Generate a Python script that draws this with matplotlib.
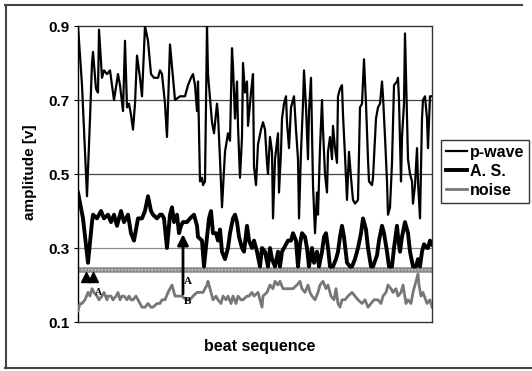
import matplotlib
matplotlib.use('Agg')
import matplotlib.pyplot as plt
from matplotlib.lines import Line2D

plt.rcParams['font.family'] = ['Liberation Sans', 'DejaVu Sans']
plt.rcParams['font.weight'] = 'bold'

# --- data (beat position, amplitude) ---
pwave_beat = [0, 4, 9, 12, 14, 15, 18, 20, 21, 24,
              26, 29, 32, 36, 40, 42, 45, 47, 49, 51,
              53, 55, 57, 59, 62, 64, 67, 70, 73, 76,
              80, 82, 84, 87, 89, 92, 97, 102, 107, 110,
              113, 115, 117, 119, 120, 122, 124, 125, 127, 129,
              130, 134, 136, 139, 140, 142, 144, 147, 150, 152,
              154, 155, 157, 159, 160, 162, 164, 165, 167, 169,
              170, 173, 175, 176, 178, 180, 183, 185, 187, 189,
              190, 192, 194, 195, 197, 200, 201, 203, 204, 206,
              208, 209, 211, 213, 215, 216, 218, 220, 221, 223,
              225, 226, 228, 230, 231, 233, 235, 237, 239, 240,
              242, 244, 245, 247, 249, 250, 252, 254, 255, 257,
              259, 260, 262, 264, 265, 267, 269, 271, 273, 275,
              277, 280, 282, 284, 286, 288, 290, 291, 294, 295,
              298, 300, 302, 304, 305, 307, 309, 310, 312, 314,
              316, 319, 320, 321, 323, 324, 326, 327, 329, 330,
              332, 334, 335, 337, 339, 340, 342, 344, 345, 347,
              349, 350, 352, 354]
pwave_amp = [0.90, 0.74, 0.44, 0.65, 0.80, 0.83, 0.73, 0.72, 0.89, 0.76,
             0.78, 0.77, 0.78, 0.70, 0.77, 0.74, 0.67, 0.86, 0.68, 0.69,
             0.66, 0.62, 0.69, 0.82, 0.76, 0.71, 0.90, 0.86, 0.77, 0.76,
             0.76, 0.78, 0.77, 0.69, 0.60, 0.85, 0.70, 0.71, 0.71, 0.74,
             0.76, 0.77, 0.74, 0.67, 0.75, 0.48, 0.49, 0.47, 0.48, 0.90,
             0.77, 0.64, 0.61, 0.69, 0.66, 0.54, 0.41, 0.56, 0.61, 0.59,
             0.84, 0.79, 0.65, 0.75, 0.63, 0.49, 0.60, 0.80, 0.72, 0.75,
             0.63, 0.72, 0.77, 0.52, 0.47, 0.58, 0.62, 0.64, 0.62, 0.53,
             0.50, 0.60, 0.56, 0.38, 0.54, 0.61, 0.45, 0.56, 0.65, 0.69,
             0.71, 0.64, 0.57, 0.68, 0.70, 0.71, 0.62, 0.54, 0.38, 0.56,
             0.69, 0.78, 0.68, 0.54, 0.67, 0.76, 0.47, 0.34, 0.45, 0.39,
             0.57, 0.70, 0.62, 0.50, 0.45, 0.56, 0.60, 0.54, 0.63, 0.57,
             0.53, 0.71, 0.73, 0.74, 0.66, 0.55, 0.43, 0.56, 0.49, 0.43,
             0.42, 0.43, 0.68, 0.69, 0.81, 0.69, 0.54, 0.48, 0.47, 0.49,
             0.65, 0.68, 0.69, 0.75, 0.71, 0.60, 0.48, 0.39, 0.41, 0.53,
             0.74, 0.75, 0.76, 0.70, 0.48, 0.60, 0.69, 0.88, 0.66, 0.54,
             0.50, 0.48, 0.42, 0.47, 0.57, 0.48, 0.38, 0.65, 0.70, 0.71,
             0.65, 0.57, 0.71, 0.71]

as_beat = [0, 5, 10, 14, 15, 19, 23, 26, 30, 33,
           36, 39, 43, 46, 50, 53, 56, 60, 64, 67,
           70, 73, 75, 79, 82, 84, 86, 89, 92, 94,
           96, 99, 101, 103, 105, 109, 112, 116, 119, 120,
           124, 126, 129, 131, 133, 135, 138, 140, 142, 144,
           147, 150, 152, 155, 157, 159, 161, 164, 166, 169,
           171, 174, 176, 179, 182, 184, 187, 190, 192, 194,
           197, 200, 202, 204, 208, 210, 213, 215, 218, 220,
           222, 224, 227, 229, 231, 234, 236, 239, 241, 244,
           246, 248, 250, 252, 255, 258, 260, 262, 264, 266,
           269, 272, 274, 277, 280, 283, 285, 288, 290, 293,
           295, 299, 301, 304, 306, 309, 311, 314, 316, 319,
           320, 322, 324, 327, 330, 332, 335, 338, 340, 342,
           344, 346, 349, 350, 352, 354]
as_amp = [0.45, 0.38, 0.26, 0.37, 0.39, 0.38, 0.40, 0.38, 0.39, 0.37,
          0.39, 0.36, 0.40, 0.37, 0.39, 0.34, 0.32, 0.38, 0.38, 0.40,
          0.44, 0.40, 0.39, 0.38, 0.39, 0.39, 0.38, 0.30, 0.39, 0.41,
          0.37, 0.39, 0.34, 0.36, 0.37, 0.37, 0.38, 0.39, 0.36, 0.33,
          0.32, 0.25, 0.33, 0.38, 0.40, 0.34, 0.34, 0.32, 0.35, 0.29,
          0.27, 0.30, 0.34, 0.38, 0.39, 0.37, 0.33, 0.30, 0.29, 0.36,
          0.32, 0.30, 0.32, 0.29, 0.25, 0.30, 0.29, 0.25, 0.30, 0.27,
          0.25, 0.29, 0.25, 0.29, 0.31, 0.32, 0.32, 0.34, 0.32, 0.25,
          0.31, 0.34, 0.33, 0.30, 0.25, 0.30, 0.26, 0.29, 0.25, 0.29,
          0.33, 0.34, 0.30, 0.25, 0.25, 0.27, 0.29, 0.33, 0.36, 0.33,
          0.26, 0.25, 0.25, 0.27, 0.30, 0.34, 0.38, 0.35, 0.30, 0.25,
          0.25, 0.28, 0.32, 0.36, 0.34, 0.29, 0.25, 0.25, 0.30, 0.36,
          0.33, 0.29, 0.33, 0.37, 0.34, 0.29, 0.25, 0.25, 0.27, 0.25,
          0.29, 0.31, 0.30, 0.30, 0.32, 0.31]

noise_beat = [0, 2, 4, 7, 10, 12, 14, 16, 19, 21,
              24, 26, 29, 30, 33, 35, 38, 40, 42, 44,
              46, 49, 51, 53, 55, 58, 60, 64, 67, 70,
              73, 75, 79, 82, 84, 87, 90, 94, 97, 100,
              104, 108, 112, 115, 119, 122, 125, 129, 130, 133,
              135, 138, 140, 143, 145, 148, 150, 153, 155, 158,
              160, 163, 165, 169, 171, 174, 176, 180, 184, 185,
              189, 192, 195, 197, 200, 202, 205, 209, 212, 215,
              219, 222, 224, 227, 230, 232, 234, 237, 240, 242,
              245, 248, 250, 253, 256, 258, 260, 262, 264, 267,
              270, 274, 277, 280, 284, 287, 290, 293, 296, 300,
              303, 305, 308, 310, 313, 315, 318, 320, 323, 325,
              328, 330, 333, 335, 338, 340, 341, 343, 345, 349,
              352, 354]
noise_amp = [0.13, 0.15, 0.15, 0.16, 0.18, 0.17, 0.19, 0.18, 0.17, 0.16,
             0.17, 0.18, 0.16, 0.17, 0.17, 0.16, 0.17, 0.18, 0.16, 0.17,
             0.17, 0.16, 0.17, 0.16, 0.16, 0.17, 0.16, 0.14, 0.14, 0.15,
             0.14, 0.14, 0.15, 0.15, 0.16, 0.16, 0.18, 0.20, 0.17, 0.17,
             0.17, 0.16, 0.16, 0.17, 0.18, 0.18, 0.18, 0.20, 0.21, 0.18,
             0.16, 0.17, 0.16, 0.15, 0.17, 0.16, 0.17, 0.15, 0.17, 0.15,
             0.17, 0.16, 0.16, 0.17, 0.17, 0.18, 0.17, 0.18, 0.14, 0.17,
             0.18, 0.20, 0.19, 0.21, 0.20, 0.21, 0.19, 0.19, 0.19, 0.19,
             0.20, 0.21, 0.19, 0.18, 0.20, 0.18, 0.17, 0.16, 0.18, 0.20,
             0.21, 0.19, 0.20, 0.17, 0.16, 0.19, 0.15, 0.14, 0.16, 0.16,
             0.17, 0.18, 0.17, 0.16, 0.15, 0.16, 0.14, 0.15, 0.16, 0.16,
             0.15, 0.17, 0.18, 0.20, 0.19, 0.18, 0.19, 0.17, 0.18, 0.20,
             0.15, 0.16, 0.15, 0.18, 0.21, 0.23, 0.20, 0.17, 0.18, 0.15,
             0.16, 0.14]

threshold = 0.24
y_ticks = [0.1, 0.3, 0.5, 0.7, 0.9]
marker_beats = [8, 15]      # small filled arrow heads under the threshold
marker_amp = 0.222
arrow_beat = 105            # the A/B arrow
arrow_from, arrow_to = 0.168, 0.345

fig = plt.figure(figsize=(5.32, 3.71), dpi=100)
ax = fig.add_axes([78 / 532, 49 / 371, 354 / 532, 296 / 371])

# grid lines at the inner ticks
for v, c in [(0.7, '#444444'), (0.5, '#444444'), (0.3, '#8a8a8a')]:
    ax.axhline(v, color=c, lw=0.9, zorder=1)

ax.axhline(threshold, color='#8a8a8a', lw=4.0, zorder=2)
ax.axhline(threshold, color='#c8c8c8', lw=1.2, ls=(0, (1, 1)), zorder=2)

l1, = ax.plot(pwave_beat, pwave_amp, color='black', lw=1.6, zorder=4)
l2, = ax.plot(as_beat, as_amp, color='black', lw=2.8, zorder=4)
l3, = ax.plot(noise_beat, noise_amp, color='#777777', lw=2.0, zorder=3)

ax.plot(marker_beats, [marker_amp] * len(marker_beats), ls='none',
        marker='^', ms=7, color='black', zorder=5)
ax.text(marker_beats[1] + 5, 0.18, 'A', fontsize=7, family='Liberation Serif',
        ha='center', va='center', zorder=5)

ax.annotate('', xy=(arrow_beat, arrow_to), xytext=(arrow_beat, arrow_from),
            arrowprops=dict(arrowstyle='-|>', color='black', lw=2.0,
                            mutation_scale=16), zorder=6)
ax.text(arrow_beat + 5, 0.21, 'A', fontsize=8, family='Liberation Serif',
        ha='center', va='center')
ax.text(arrow_beat + 5, 0.155, 'B', fontsize=8, family='Liberation Serif',
        ha='center', va='center')

ax.set_xlim(0, 354)
ax.set_ylim(0.1, 0.9)
ax.set_xticks([])
ax.set_yticks(y_ticks)
ax.set_yticklabels([f'{t:.1f}' for t in y_ticks], fontsize=11, fontweight='bold')
ax.tick_params(axis='y', length=3, width=0.8, pad=3)

ax.spines['left'].set_color('black')
ax.spines['left'].set_linewidth(1.0)
for s in ['top', 'right', 'bottom']:
    ax.spines[s].set_linestyle((0, (1, 1)))
    ax.spines[s].set_linewidth(1.0)
    ax.spines[s].set_color('#333333')

fig.text(30 / 532, 1 - 172 / 371, 'amplitude [v]', rotation=90, fontsize=11,
         fontweight='bold', ha='center', va='center')
fig.text(260 / 532, 1 - 347 / 371, 'beat sequence', fontsize=11.5,
         fontweight='bold', ha='center', va='center')

leg = fig.legend([l1, l2, l3], ['p-wave', 'A. S.', 'noise'],
                 loc='upper left', bbox_to_anchor=(441 / 532, 1 - 140 / 371),
                 frameon=True, fancybox=False, shadow=False, fontsize=11.5,
                 handlelength=1.3, handletextpad=0.2, labelspacing=0.25,
                 borderpad=0.3, borderaxespad=0)
leg.get_frame().set_edgecolor('black')
leg.get_frame().set_linewidth(1.0)
for t in leg.get_texts():
    t.set_fontweight('bold')

# outer frame of the scanned figure (no right edge visible)
fig.add_artist(Line2D([5 / 532, 522 / 532], [1 - 5 / 371, 1 - 5 / 371],
                      transform=fig.transFigure, color='#444444', lw=1.5))
fig.add_artist(Line2D([6 / 532, 6 / 532], [1 - 5 / 371, 1 - 368 / 371],
                      transform=fig.transFigure, color='#444444', lw=1.5))
fig.add_artist(Line2D([5 / 532, 532 / 532], [1 - 368 / 371, 1 - 368 / 371],
                      transform=fig.transFigure, color='#444444', lw=1.5))

fig.savefig('out.png', dpi=100)
